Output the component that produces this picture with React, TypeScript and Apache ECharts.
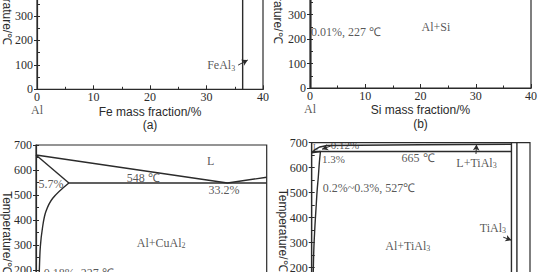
import React, { useEffect, useRef } from 'react';
import * as echarts from 'echarts';

// ---------------- data ----------------
// shared axes
const massTicks = [0, 10, 20, 30, 40]; // mass fraction / %
const tempTicks = [0, 100, 200, 300, 400, 500, 600, 700]; // temperature / ℃

// (a) Al–Fe
const feAl3Phase = [[36.4, 0], [36.4, 700]];
const feArrow = [[35.6, 99], [37.3, 120]];
const feNotes: [number, number, string][] = [
  [32.6, 98, 'FeAl{s|3}'],
  [0, -85, 'Al'],
];

// (b) Al–Si
const siSolvus = [[0.15, 0], [0.15, 700]];
const siNotes: [number, number, string][] = [
  [6.5, 228, '0.01%, 227 ℃'],
  [22.8, 250, 'Al+Si'],
  [0, -87, 'Al'],
];

// (c) Al–Cu
const cuLiquidus = [[0, 660], [33.2, 548], [40, 571]];
const cuSolidus = [[0, 660], [5.7, 548]];
const cuEutectic = [[5.7, 548], [40, 548]];
const cuSolvus = [[5.7, 548], [2.9, 487], [1.7, 433], [1.15, 373], [0.75, 293], [0.58, 200], [0.45, 100], [0.35, 0]];
const cuNotes: [number, number, string][] = [
  [30.3, 636, 'L'],
  [18.6, 569, '548 ℃'],
  [2.6, 543, '5.7%'],
  [32.6, 520, '33.2%'],
  [21.7, 309, 'Al+CuAl{s|2}'],
  [7.4, 189, '0.18%, 227 ℃'],
];

// (d) Al–Ti
const tiLiquidus = [[0, 660], [0.6, 672], [1.5, 683], [2.8, 689], [20, 692], [36.6, 694]];
const tiSolidus = [[0, 660], [1.6, 665]];
const tiPeritectic = [[0.12, 665], [36.6, 665]];
const tiSolvus = [[1.6, 665], [1.4, 620], [1.2, 560], [1.0, 510], [0.8, 440], [0.6, 370], [0.4, 280], [0.3, 200], [0.2, 100], [0.15, 0]];
const tiAl3Left = [[36.6, 0], [36.6, 700]];
const tiAl3Right = [[37.6, 0], [37.6, 700]];
const tiArrows = [
  [[3.5, 687], [1.9, 674]],
  [[30.1, 655], [30.2, 693]],
  [[35.1, 322], [36.6, 310]],
];
const tiNotes: [number, number, string][] = [
  [0.7, 681, 'L'],
  [6.1, 690, '0.12%'],
  [4.0, 634, '1.3%'],
  [19.5, 640, '665 ℃'],
  [30.2, 620, 'L+TiAl{s|3}'],
  [10.5, 520, '0.2%~0.3%, 527℃'],
  [33.2, 360, 'TiAl{s|3}'],
  [17.6, 287, 'Al+TiAl{s|3}'],
];

const xNames = ['Fe mass fraction/%\n(a)', 'Si mass fraction/%\n(b)', '', ''];

// ---------------- styling ----------------
const INK = '#2b2b2b';
const SERIF = '"Liberation Serif", "Times New Roman", serif';
const SANS = '"Liberation Sans", Arial, sans-serif';
const OFFSET = 100; // the chart canvas starts this far above the visible window
const CANVAS_H = 272 + OFFSET + 80;

function buildOption() {
  const layouts = [
    { left: 35, top: -81.7 + OFFSET, width: 228, height: 171 },
    { left: 310, top: -83.5 + OFFSET, width: 221, height: 171.5 },
    { left: 33.3, top: 145 + OFFSET, width: 233.4, height: 175 },
    { left: 311.7, top: 142.7 + OFFSET, width: 218.3, height: 175 },
  ];
  const nameGaps = [24, 26, 23, 23];
  const isUpper = [true, true, false, false];

  const straight = [
    [feAl3Phase],
    [siSolvus],
    [cuLiquidus, cuSolidus, cuEutectic],
    [tiLiquidus, tiSolidus, tiPeritectic, tiAl3Left, tiAl3Right],
  ];
  const curves = [[], [], [cuSolvus], [tiSolvus]];
  const arrows = [[feArrow], [], [], tiArrows];
  const notes = [feNotes, siNotes, cuNotes, tiNotes];

  const xMin = massTicks[0];
  const xMax = massTicks[massTicks.length - 1];
  const xStep = massTicks[1] - massTicks[0];
  const yMin = tempTicks[0];
  const yMax = tempTicks[tempTicks.length - 1];
  const yStep = tempTicks[1] - tempTicks[0];

  const grid: any[] = [];
  const xAxis: any[] = [];
  const yAxis: any[] = [];
  const series: any[] = [];

  layouts.forEach((l, i) => {
    grid.push({ ...l, show: true, borderColor: INK, borderWidth: 1.2, backgroundColor: 'transparent' });
    xAxis.push({
      type: 'value',
      gridIndex: i,
      min: xMin,
      max: xMax,
      interval: xStep,
      axisLine: { lineStyle: { color: INK, width: 1.2 } },
      axisTick: { inside: true, length: 4, lineStyle: { color: INK } },
      minorTick: { show: true, splitNumber: 2, length: 2.5, lineStyle: { color: INK } },
      splitLine: { show: false },
      axisLabel: {
        show: isUpper[i],
        fontFamily: SERIF,
        fontSize: 12,
        color: INK,
        margin: 2,
        lineHeight: 12,
      },
      name: xNames[i],
      nameLocation: 'middle',
      nameGap: 15.5,
      nameMoveOverlap: false,
      nameTextStyle: { fontFamily: SANS, fontSize: 12, color: INK, lineHeight: 13.5 },
    });
    yAxis.push({
      type: 'value',
      gridIndex: i,
      position: 'left',
      min: yMin,
      max: yMax,
      interval: yStep,
      axisLine: { show: true, lineStyle: { color: INK, width: 1.2 } },
      axisTick: { show: true, inside: false, length: 3, lineStyle: { color: INK } },
      splitLine: { show: false },
      axisLabel: {
        fontFamily: SERIF,
        fontSize: 12,
        color: INK,
        margin: 4,
        formatter: (v: number) => (isUpper[i] ? (v <= 300 ? String(v) : '') : v >= 200 ? String(v) : ''),
      },
      name: 'Temperature/℃',
      nameLocation: 'middle',
      nameRotate: -90,
      nameGap: nameGaps[i],
      nameMoveOverlap: false,
      nameTextStyle: { fontFamily: SANS, fontSize: 12, color: INK },
    });
    yAxis.push({
      type: 'value',
      gridIndex: i,
      position: 'left',
      min: yMin,
      max: yMax,
      interval: yStep / 2,
      axisLine: { show: false },
      axisTick: { show: true, inside: true, length: 3, lineStyle: { color: INK } },
      splitLine: { show: false },
      axisLabel: { show: false },
    });
    const yi = 2 * i;
    straight[i].forEach((d) => {
      series.push({
        type: 'line',
        xAxisIndex: i,
        yAxisIndex: yi,
        data: d,
        symbol: 'none',
        silent: true,
        lineStyle: { color: INK, width: 1.4 },
      });
    });
    curves[i].forEach((d) => {
      series.push({
        type: 'line',
        xAxisIndex: i,
        yAxisIndex: yi,
        data: d,
        symbol: 'none',
        smooth: 0.35,
        silent: true,
        lineStyle: { color: INK, width: 1.4 },
      });
    });
    series.push({
      type: 'scatter',
      xAxisIndex: i,
      yAxisIndex: yi,
      symbolSize: 0,
      silent: true,
      clip: false,
      data: notes[i].map(([x, y, t]) => ({
        value: [x, y],
        label: {
          formatter: t,
          fontSize: t === 'L' && i === 3 ? 8 : i === 3 && (t === '0.12%' || t === '1.3%') ? 11 : 12,
        },
      })),
      label: {
        show: true,
        position: 'inside',
        fontFamily: SERIF,
        fontSize: 12,
        color: INK,
        rich: { s: { fontFamily: SERIF, fontSize: 8, color: INK, padding: [6, 0, 0, 0] } },
      },
      markLine: arrows[i].length
        ? {
            silent: true,
            symbol: ['none', 'arrow'],
            symbolSize: [5, 6],
            label: { show: false },
            lineStyle: { color: INK, width: 1, type: 'solid' },
            data: arrows[i].map((a) => [{ coord: a[0] }, { coord: a[1] }]),
          }
        : undefined,
    });
  });

  return { animation: false, backgroundColor: '#ffffff', grid, xAxis, yAxis, series };
}

export default function App() {
  const ref = useRef<HTMLDivElement>(null);
  useEffect(() => {
    if (!ref.current) return;
    const chart = echarts.init(ref.current, undefined, { renderer: 'svg' });
    chart.setOption(buildOption() as any);
    return () => chart.dispose();
  }, []);
  return (
    <div
      style={{
        position: 'absolute',
        left: 0,
        top: 0,
        width: 540,
        height: 272,
        overflow: 'hidden',
        background: '#fff',
      }}
    >
      <div
        ref={ref}
        style={{ position: 'absolute', left: 0, top: -OFFSET, width: 540, height: CANVAS_H }}
      />
    </div>
  );
}
